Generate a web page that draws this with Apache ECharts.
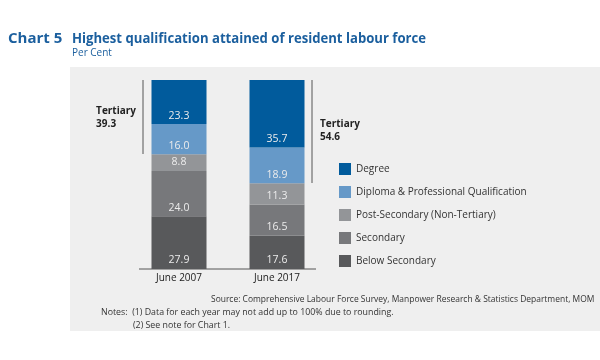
<!DOCTYPE html>
<html><head><meta charset="utf-8">
<script src="https://cdn.jsdelivr.net/npm/echarts@6/dist/echarts.min.js"></script>
<style>html,body{margin:0;padding:0;background:#fff}#c{width:600px;height:360px}</style>
</head><body><div id="c"></div>
<script>
var categories = ['June 2007', 'June 2017'];
var belowSecondary = [27.9, 17.6];
var secondary = [24.0, 16.5];
var postSecondary = [8.8, 11.3];
var diploma = [16.0, 18.9];
var degree = [23.3, 35.7];
var tertiaryTotals = [39.3, 54.6];
var seriesNames = ['Below Secondary', 'Secondary', 'Post-Secondary (Non-Tertiary)', 'Diploma & Professional Qualification', 'Degree'];
var legendOrder = ['Degree', 'Diploma & Professional Qualification', 'Post-Secondary (Non-Tertiary)', 'Secondary', 'Below Secondary'];
var colors = ['#58595b', '#77787b', '#939598', '#6699c8', '#015b9c'];

var FONT = 'Open Sans';
var chart = echarts.init(document.getElementById('c'));
var values = [belowSecondary, secondary, postSecondary, diploma, degree];

var series = values.map(function (arr, i) {
  return {
    name: seriesNames[i], type: 'bar', stack: 'total', data: arr,
    barWidth: 55,
    itemStyle: { color: colors[i] },
    label: { show: true, position: 'insideBottom', distance: 3, color: '#ececec', fontSize: 10.5, fontFamily: FONT,
      formatter: function (p) { return p.value.toFixed(1); } }
  };
});

chart.setOption({
  animation: false,
  textStyle: { fontFamily: FONT },
  grid: { left: 130, width: 196, top: 80, bottom: 91 },
  xAxis: { type: 'category', data: categories,
    axisLine: { show: false }, axisTick: { show: false },
    axisLabel: { color: '#222', fontSize: 10, margin: 4, fontFamily: FONT } },
  yAxis: { type: 'value', min: 0, max: 100, show: false },
  legend: { data: legendOrder, orient: 'vertical', left: 339, top: 163, padding: 0, itemWidth: 12, itemHeight: 12, itemGap: 11,
    icon: 'rect', textStyle: { fontSize: 10, color: '#333', fontFamily: FONT } },
  series: series,
  graphic: [
    { type: 'rect', z: -10, shape: { x: 70, y: 67, width: 530, height: 264 }, style: { fill: '#efefef' }, silent: true },
    { type: 'text', x: 8, y: 31, style: { text: 'Chart 5', fill: '#1b5f9e', font: 'bold 15px "Open Sans"' } },
    { type: 'text', x: 72, y: 31, scaleX: 0.875, style: { text: 'Highest qualification attained of resident labour force', fill: '#1b5f9e', font: 'bold 15px "Open Sans"' } },
    { type: 'text', x: 72, y: 48, style: { text: 'Per Cent', fill: '#1b5f9e', font: '10px "Open Sans"' } },
    { type: 'line', shape: { x1: 139, y1: 269, x2: 316, y2: 269 }, style: { stroke: '#555', lineWidth: 1 } },
    { type: 'line', shape: { x1: 143, y1: 80, x2: 143, y2: 154 }, style: { stroke: '#555', lineWidth: 1 } },
    { type: 'line', shape: { x1: 312, y1: 80, x2: 312, y2: 183 }, style: { stroke: '#555', lineWidth: 1 } },
    { type: 'text', right: 600 - 136, top: 105, style: { text: 'Tertiary\n' + tertiaryTotals[0].toFixed(1), fill: '#222', font: 'bold 10px "Open Sans"', align: 'right', lineHeight: 13 } },
    { type: 'text', left: 320, top: 118, style: { text: 'Tertiary\n' + tertiaryTotals[1].toFixed(1), fill: '#222', font: 'bold 10px "Open Sans"', lineHeight: 13 } },
    { type: 'text', x: 211, y: 295, scaleX: 0.94, style: { text: 'Source: Comprehensive Labour Force Survey, Manpower Research & Statistics Department, MOM', fill: '#333', font: '9px "Open Sans"' } },
    { type: 'text', x: 101, y: 308, scaleX: 0.98, style: { text: 'Notes:  (1) Data for each year may not add up to 100% due to rounding.', fill: '#333', font: '9px "Open Sans"' } },
    { type: 'text', x: 133, y: 321, scaleX: 0.98, style: { text: '(2) See note for Chart 1.', fill: '#333', font: '9px "Open Sans"' } }
  ]
});
</script></body></html>
